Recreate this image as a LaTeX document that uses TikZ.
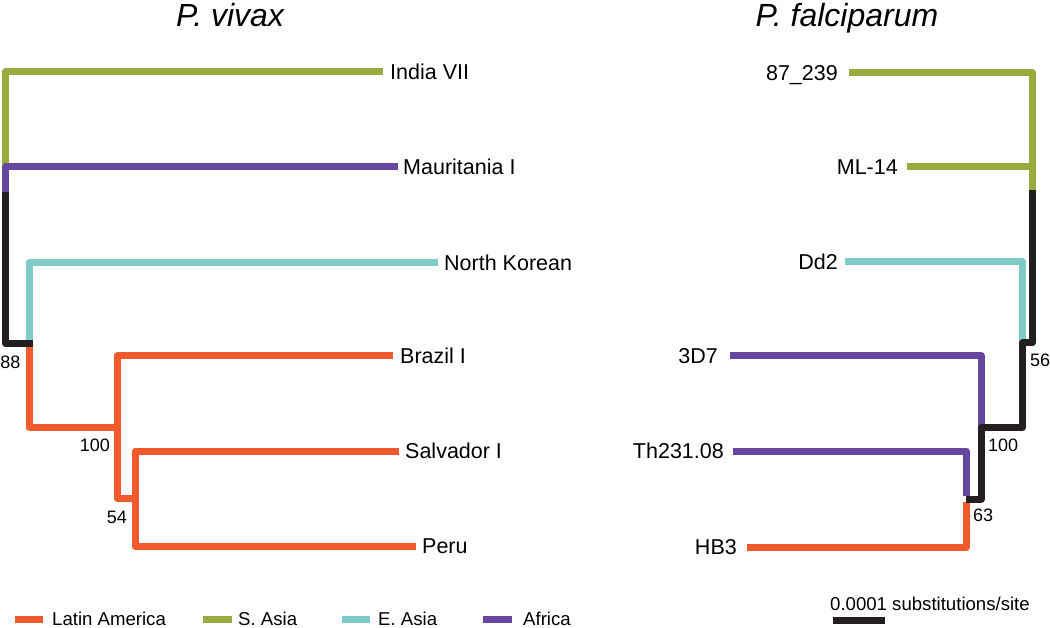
\documentclass[tikz,border=0pt]{standalone}
\usepackage{fontspec}
\setmainfont{Liberation Sans}
\definecolor{cLA}{RGB}{241,90,43}
\definecolor{cSA}{RGB}{155,170,60}
\definecolor{cEA}{RGB}{126,203,200}
\definecolor{cAF}{RGB}{101,70,160}
\definecolor{cBK}{RGB}{35,31,32}
\begin{document}
\begin{tikzpicture}[x=1pt,y=-1pt,
  br/.style={line width=7pt, line join=round, line cap=butt},
  leaf/.style={font=\fontsize{21.5}{25}\selectfont, inner sep=0pt, text height=15.4pt, text depth=0pt},
  boot/.style={font=\fontsize{18}{21}\selectfont, inner sep=0pt, text height=12.9pt, text depth=0pt},
  ttl/.style={font=\fontsize{32}{36}\selectfont\itshape, inner sep=0pt, text height=22.9pt, text depth=0pt},
  legtxt/.style={font=\fontsize{18.6}{22}\selectfont, inner sep=0pt, text height=13.3pt, text depth=0pt}]
\useasboundingbox (0,0) rectangle (1050,628);
\fill[white] (0,0) rectangle (1050,628);

% titles
\node[ttl] (tv) at (230,15) {P. vivax};
\node[ttl] (tf) at (847,15) {P. falciparum};

% ---------- P. vivax ----------
\coordinate (tIndia) at (383,72);
\coordinate (tMaur) at (398,167);
\coordinate (tNK) at (438,262.5);
\coordinate (tBraz) at (393,356);
\coordinate (tSalv) at (399,451);
\coordinate (tPeru) at (416,546);
\coordinate (r1) at (5.5,165);
\coordinate (r2) at (5.5,192);
\coordinate (nA) at (29,343.5);
\coordinate (nAe) at (32.5,343.5);
\coordinate (nB) at (117,427);
\coordinate (nBb) at (117,498);
\coordinate (nC) at (135,498);
\coordinate (nCb) at (135,546);

\node[leaf, anchor=west] (lIndia) at (390,72) {India VII};
\node[leaf, anchor=west] (lMaur) at (403,167) {Mauritania I};
\node[leaf, anchor=west] (lNK) at (444,262.5) {North Korean};
\node[leaf, anchor=west] (lBraz) at (400,356) {Brazil I};
\node[leaf, anchor=west] (lSalv) at (405,451) {Salvador I};
\node[leaf, anchor=west] (lPeru) at (422,546) {Peru};

\draw[br, cSA] (tIndia) -| (r1);
\draw[br, cAF] (tMaur) -| (r2);
\draw[br, cEA] (tNK) -| (nA);
\draw[br, cLA] (nA) |- (nB);
\draw[br, cLA] (tBraz) -| (nBb) -- (nC);
\draw[br, cLA] (tSalv) -| (nCb) -- (tPeru);
\draw[br, cBK] (r2) |- (nAe);

\node[boot, anchor=east] (b88) at (20.5,362) {88};
\node[boot, anchor=east] (b100a) at (110,445) {100};
\node[boot, anchor=east] (b54) at (127,517) {54};

% ---------- P. falciparum ----------
\coordinate (t87) at (849,73);
\coordinate (tML) at (907,167);
\coordinate (tDd2) at (845,262);
\coordinate (t3D7) at (730,356);
\coordinate (tTh) at (733,451);
\coordinate (tHB3) at (747,547);
\coordinate (s1) at (1032.5,190);
\coordinate (s1b) at (1032.5,167);
\coordinate (s2) at (1022.5,343);
\coordinate (s3) at (981,427.5);
\coordinate (s4) at (966,499);
\coordinate (s4t) at (966,496);
\coordinate (s4b) at (966,502);

\node[leaf, anchor=east] (l87) at (838,73) {87\_239};
\node[leaf, anchor=east] (lML) at (898,167) {ML-14};
\node[leaf, anchor=east] (lDd2) at (838,262) {Dd2};
\node[leaf, anchor=east] (l3D7) at (718,356) {3D7};
\node[leaf, anchor=east] (lTh) at (724,451) {Th231.08};
\node[leaf, anchor=east] (lHB3) at (737,547) {HB3};

\draw[br, cSA] (t87) -| (s1);
\draw[br, cSA] (tML) -- (s1b);
\draw[br, cEA] (tDd2) -| (s2);
\draw[br, cAF] (t3D7) -| (s3);
\draw[br, cAF] (tTh) -| (s4t);
\draw[br, cLA] (tHB3) -| (s4b);
\draw[br, cBK] (s1) |- (s2) |- (s3) |- (s4);

\node[boot, anchor=west] (b56) at (1030,360) {56};
\node[boot, anchor=west] (b100b) at (988,445) {100};
\node[boot, anchor=west] (b63) at (973,515) {63};

% ---------- legend ----------
\coordinate (g1a) at (15,619.5); \coordinate (g1b) at (43,619.5);
\coordinate (g2a) at (203,619.5); \coordinate (g2b) at (232,619.5);
\coordinate (g3a) at (342,619.5); \coordinate (g3b) at (370,619.5);
\coordinate (g4a) at (483,619.5); \coordinate (g4b) at (512,619.5);
\draw[br, cLA] (g1a) -- (g1b);
\draw[br, cSA] (g2a) -- (g2b);
\draw[br, cEA] (g3a) -- (g3b);
\draw[br, cAF] (g4a) -- (g4b);
\node[legtxt, anchor=west] (k1) at (52,619) {Latin America};
\node[legtxt, anchor=west] (k2) at (238,619) {S. Asia};
\node[legtxt, anchor=west] (k3) at (378,619) {E. Asia};
\node[legtxt, anchor=west] (k4) at (523,619) {Africa};

\node[legtxt, anchor=west] (sc) at (830,603.5) {0.0001 substitutions/site};
\coordinate (sca) at (833,620.5); \coordinate (scb) at (885,620.5);
\draw[br, cBK] (sca) -- (scb);
\end{tikzpicture}
\end{document}
